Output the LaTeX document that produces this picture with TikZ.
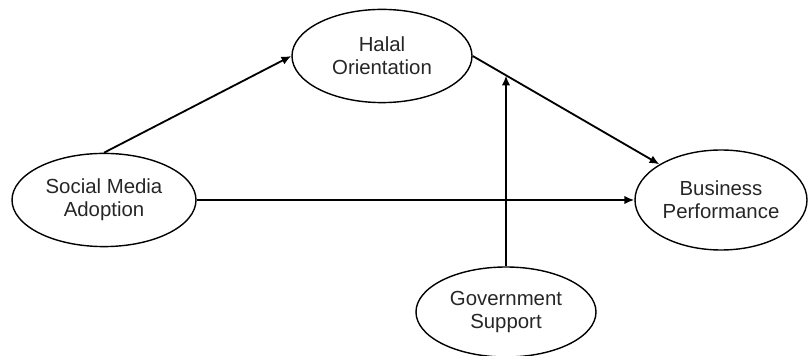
\documentclass[tikz,border=0pt]{standalone}
\usepackage{fontspec}
\setmainfont{Liberation Sans}
\usetikzlibrary{shapes.geometric,arrows.meta}
\tikzset{
  construct/.style={draw, ellipse, line width=1pt, inner sep=0pt,
    minimum width=4.5cm, minimum height=2.33cm, align=center,
    text=black!85, font=\fontsize{14.5}{16.5}\selectfont},
  path/.style={line width=1.3pt, -{Latex[length=7pt,width=6pt]}}
}
\begin{document}
\begin{tikzpicture}
\useasboundingbox (0,0) rectangle (20.2,-8.9);
\node[construct] (halal) at (9.55,-1.4) {Halal\\Orientation};
\node[construct, minimum width=4.6cm] (sma) at (2.6,-5.0) {Social Media\\Adoption};
\node[construct, minimum width=4.3cm, minimum height=2.5cm] (perf) at (18.025,-5.0) {Business\\Performance};
\node[construct, minimum height=2.25cm] (gov) at (12.65,-7.8) {Government\\Support};
\coordinate (meet) at (12.65,-1.89);
\draw[path] (sma.north) -- (halal.west);
\draw[path] (halal.east) -- (perf);
\draw[path] (sma.east) -- (perf.west);
\draw[path] (gov.north) -- (meet);
\end{tikzpicture}
\end{document}
